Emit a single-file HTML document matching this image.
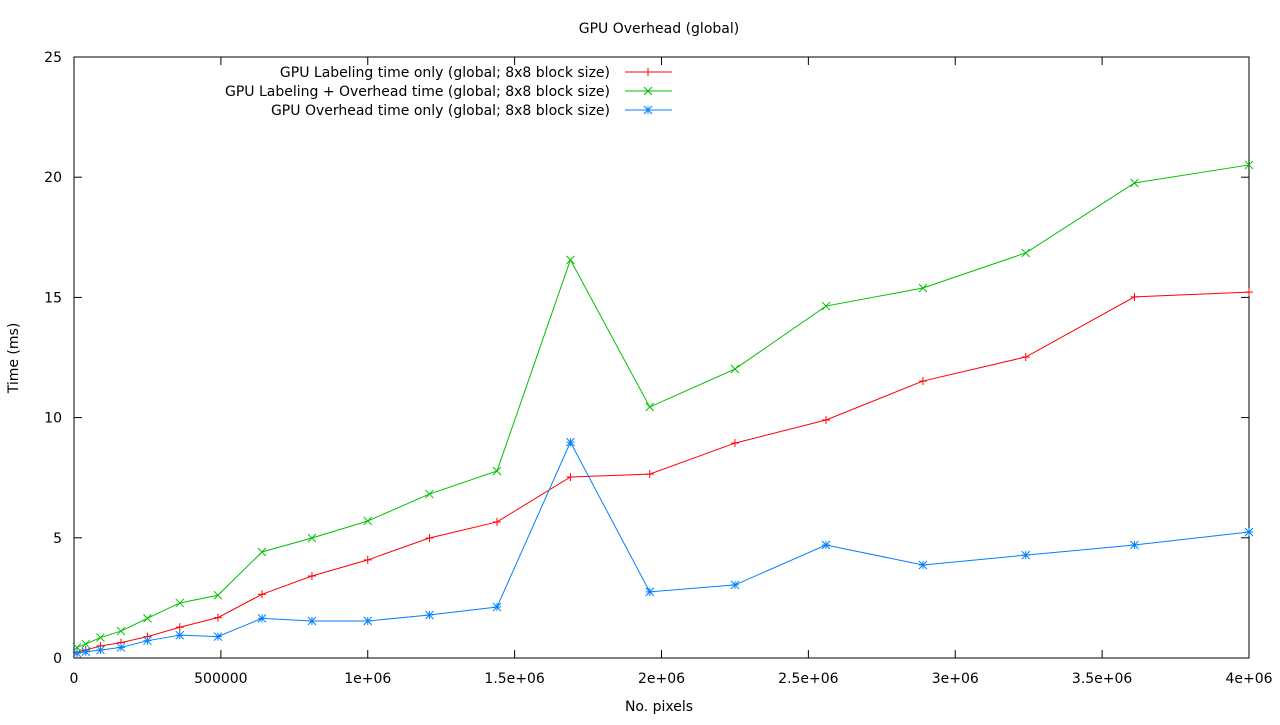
<!DOCTYPE html>
<html><head><meta charset="utf-8"><style>
body{margin:0;background:#fff;}
svg text{font-family:"DejaVu Sans","Liberation Sans",sans-serif;font-size:14px;fill:#000;}
</style></head><body>
<svg id="chart" width="1280" height="720">
<rect x="0" y="0" width="1280" height="720" fill="#fff"/>
<text x="659" y="33" text-anchor="middle">GPU Overhead (global)</text>
<text x="659" y="711" text-anchor="middle">No. pixels</text>
<text x="18" y="358" text-anchor="middle" transform="rotate(-90 18 358)">Time (ms)</text>
<g id="axes"></g>
<g id="series"></g>
<g id="legend"></g>
</svg>
<script>
const xVals=[10000,40000,90000,160000,250000,360000,490000,640000,810000,1000000,1210000,1440000,1690000,1960000,2250000,2560000,2890000,3240000,3610000,4000000];
const labelingOnly=[0.24,0.33,0.5,0.64,0.89,1.28,1.68,2.65,3.41,4.08,4.99,5.66,7.53,7.65,8.94,9.9,11.52,12.52,15.02,15.22];
const labelingPlusOverhead=[0.44,0.58,0.85,1.12,1.65,2.29,2.61,4.41,4.99,5.7,6.82,7.78,16.56,10.44,12.02,14.64,15.39,16.85,19.76,20.51];
const overheadOnly=[0.2,0.26,0.33,0.44,0.72,0.95,0.89,1.65,1.54,1.54,1.79,2.12,8.98,2.75,3.04,4.7,3.87,4.28,4.7,5.24];
const xTicks=[0,500000,1000000,1500000,2000000,2500000,3000000,3500000,4000000];
const xTickLabels=["0","500000","1e+06","1.5e+06","2e+06","2.5e+06","3e+06","3.5e+06","4e+06"];
const yTicks=[0,5,10,15,20,25];
const seriesNames=["GPU Labeling time only (global; 8x8 block size)","GPU Labeling + Overhead time (global; 8x8 block size)","GPU Overhead time only (global; 8x8 block size)"];

const L=74,R=1249,T=57,B=658;
const xs=v=>L+v/4000000*(R-L);
const ys=v=>B-v/25*(B-T);
const NS="http://www.w3.org/2000/svg";
function mk(tag,attrs,parent){const e=document.createElementNS(NS,tag);for(const k in attrs)e.setAttribute(k,attrs[k]);parent.appendChild(e);return e;}
const axes=document.getElementById('axes');
const frame=mk('rect',{x:L,y:T,width:R-L,height:B-T,fill:'none',stroke:'#000','stroke-width':1},axes);


xTicks.forEach((t,i)=>{
  const x=xs(t);
  mk('line',{x1:x,y1:B,x2:x,y2:B-8,stroke:'#000'},axes);
  mk('line',{x1:x,y1:T,x2:x,y2:T+8,stroke:'#000'},axes);
  const tx=mk('text',{x:x,y:B+25,'text-anchor':'middle'},axes);
  tx.textContent=xTickLabels[i];
  
  
});
yTicks.forEach(t=>{
  const y=ys(t);
  mk('line',{x1:L,y1:y,x2:L+8,y2:y,stroke:'#000'},axes);
  mk('line',{x1:R,y1:y,x2:R-8,y2:y,stroke:'#000'},axes);
  const tx=mk('text',{x:L-12,y:y+5,'text-anchor':'end'},axes);
  tx.textContent=String(t);
  
  
});
function marker(g,x,y,type,c){
  const s=4;
  if(type==='plus'||type==='star'){mk('line',{x1:x-s,y1:y,x2:x+s,y2:y,stroke:c},g);mk('line',{x1:x,y1:y-s,x2:x,y2:y+s,stroke:c},g);}
  if(type==='cross'||type==='star'){mk('line',{x1:x-s,y1:y-s,x2:x+s,y2:y+s,stroke:c},g);mk('line',{x1:x-s,y1:y+s,x2:x+s,y2:y-s,stroke:c},g);}
}
const sg=document.getElementById('series');
const lg=document.getElementById('legend');
const defs=[[labelingOnly,'#ff0000','plus','labeling-only-series'],[labelingPlusOverhead,'#00c000','cross','labeling-plus-overhead-series'],[overheadOnly,'#0080ff','star','overhead-only-series']];
defs.forEach((d,i)=>{
  const g=mk('g',{},sg);
  
  
  const pts=xVals.map((x,j)=>xs(x)+','+ys(d[0][j])).join(' ');
  mk('polyline',{points:pts,fill:'none',stroke:d[1],'stroke-width':1},g);
  xVals.forEach((x,j)=>marker(g,xs(x),ys(d[0][j]),d[2],d[1]));
  const ly=72+i*19;
  const le=mk('g',{},lg);
  
  
  const t=mk('text',{x:610,y:ly+5,'text-anchor':'end'},le);
  t.textContent=seriesNames[i];
  mk('line',{x1:625,y1:ly,x2:672,y2:ly,stroke:d[1]},le);
  marker(le,648,ly,d[2],d[1]);
});
</script>
</body></html>
